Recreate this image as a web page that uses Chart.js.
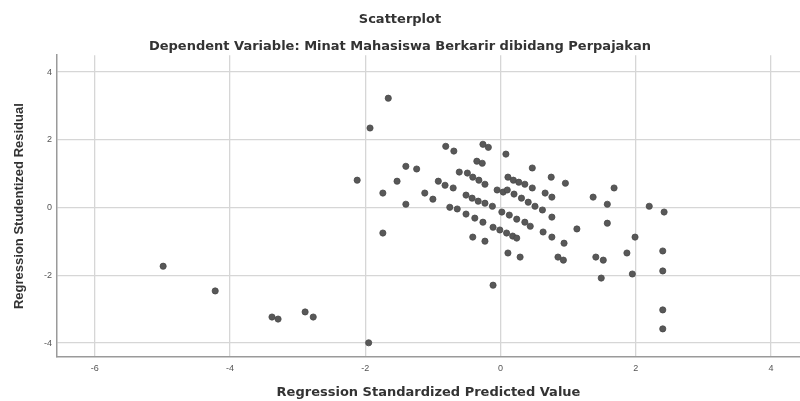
<!DOCTYPE html>
<html>
<head>
<meta charset="utf-8">
<script src="https://cdn.jsdelivr.net/npm/chart.js@4/dist/chart.umd.min.js"></script>
<style>
  html, body { margin: 0; padding: 0; background: #fff; }
  #wrap { width: 800px; height: 401px; }
</style>
</head>
<body>
<div id="wrap"><canvas id="c" width="800" height="401"></canvas></div>
<script>
const chartTitle = "Scatterplot";
const chartSubtitle = "Dependent Variable: Minat Mahasiswa Berkarir dibidang Perpajakan";
const xAxisTitle = "Regression Standardized Predicted Value";
const yAxisTitle = "Regression Studentized Residual";
const xTicks = [-6, -4, -2, 0, 2, 4];
const yTicks = [-4, -2, 0, 2, 4];

// Standardized predicted values
const predicted = [
  -4.99, -4.22, -3.38, -3.29, -2.89, -2.77, -1.95, -1.93, -1.66, -2.12,
  -1.74, -1.53, -1.40, -1.24, -1.74, -1.40, -0.81, -0.69, -0.26, -0.18,
  0.08, -0.35, -0.27, -0.61, -0.49, -0.41, -0.32, -0.23, -0.92, -0.82,
  -0.70, -1.12, -1.00, -0.51, -0.42, -0.33, -0.23, -0.12, -0.75, -0.64,
  -0.51, -0.38, -0.26, -0.11, -0.01, 0.09, 0.18, 0.24, -0.41, -0.23,
  0.11, 0.29, -0.05, 0.04, 0.10, 0.20, 0.31, 0.41, 0.51, 0.62,
  0.02, 0.13, 0.24, 0.36, 0.11, 0.19, 0.27, 0.36, 0.47, 0.47,
  0.44, 0.63, 0.66, 0.76, 0.75, 0.96, 0.76, 0.76, 0.94, 1.13,
  1.37, 1.58, 1.68, 1.58, 0.85, 0.93, 1.41, 1.52, 1.49, 1.99,
  1.87, 1.95, 2.20, 2.42, 2.40, 2.40, 2.40, 2.40, -0.11
];
// Studentized residuals
const residual = [
  -1.73, -2.46, -3.23, -3.29, -3.08, -3.23, -3.99, 2.35, 3.23, 0.81,
  0.43, 0.78, 1.22, 1.14, -0.75, 0.10, 1.81, 1.67, 1.87, 1.78,
  1.58, 1.37, 1.31, 1.05, 1.02, 0.90, 0.81, 0.69, 0.78, 0.66,
  0.58, 0.43, 0.25, 0.37, 0.28, 0.19, 0.13, 0.04, 0.01, -0.04,
  -0.19, -0.31, -0.43, -0.58, -0.66, -0.75, -0.84, -0.90, -0.87, -0.99,
  -1.34, -1.46, 0.52, 0.46, 0.52, 0.40, 0.28, 0.16, 0.04, -0.07,
  -0.13, -0.22, -0.34, -0.43, 0.90, 0.81, 0.75, 0.69, 1.17, 0.58,
  -0.55, -0.72, 0.43, 0.31, 0.90, 0.72, -0.28, -0.87, -1.05, -0.63,
  0.31, 0.10, 0.58, -0.46, -1.46, -1.55, -1.46, -1.55, -2.08, -0.87,
  -1.34, -1.96, 0.04, -0.13, -1.28, -1.87, -3.02, -3.58, -2.29
];

const points = predicted.map((x, i) => ({ x: x, y: residual[i] }));
const FONT = "'Liberation Sans', Arial, sans-serif";
const WIDE = "'DejaVu Sans', Verdana, sans-serif";

new Chart(document.getElementById('c'), {
  type: 'scatter',
  data: {
    datasets: [{
      data: points,
      pointRadius: 3.1,
      pointHoverRadius: 3.1,
      backgroundColor: '#585858',
      borderColor: '#4a4a4a',
      borderWidth: 0.8,
      clip: false
    }]
  },
  options: {
    responsive: false,
    animation: false,
    devicePixelRatio: 1,
    layout: { autoPadding: false, padding: { left: 0, right: 0, top: 0, bottom: 0 } },
    plugins: {
      legend: { display: false },
      tooltip: { enabled: false },
      title: {
        display: true,
        text: chartTitle,
        color: '#333333',
        font: { family: WIDE, size: 13, weight: 'bold' },
        padding: { top: 12, bottom: 11 }
      },
      subtitle: {
        display: true,
        text: chartSubtitle,
        color: '#333333',
        font: { family: WIDE, size: 13, weight: 'bold' },
        padding: { top: 0, bottom: 1 }
      }
    },
    scales: {
      x: {
        type: 'linear',
        min: -6.56,
        max: 4.43,
        afterBuildTicks: (s) => { s.ticks = xTicks.map(v => ({ value: v })); },
        afterFit: (s) => { s.height = 44; s.paddingLeft = 0; s.paddingRight = 0; },
        ticks: {
          color: '#555555',
          font: { family: FONT, size: 9 },
          padding: 6,
          maxRotation: 0
        },
        grid: { color: '#d6d6d6', lineWidth: 1.3, drawTicks: false },
        border: { display: true, color: '#9a9a9a', width: 1.5 },
        title: {
          display: true,
          text: xAxisTitle,
          color: '#333333',
          font: { family: WIDE, size: 13, weight: 'bold' },
          padding: { top: 0, bottom: 1 }
        }
      },
      y: {
        type: 'linear',
        min: -4.41,
        max: 4.5,
        afterBuildTicks: (s) => { s.ticks = yTicks.map(v => ({ value: v })); },
        afterFit: (s) => { s.width = 57; },
        ticks: {
          color: '#555555',
          font: { family: FONT, size: 9 },
          padding: 5
        },
        grid: { color: '#d6d6d6', lineWidth: 1.3, drawTicks: false },
        border: { display: true, color: '#9a9a9a', width: 1.5 },
        title: {
          display: true,
          text: yAxisTitle,
          color: '#333333',
          font: { family: FONT, size: 13, weight: 'bold' },
          padding: { top: 12, bottom: 0 }
        }
      }
    }
  }
});
</script>
</body>
</html>
